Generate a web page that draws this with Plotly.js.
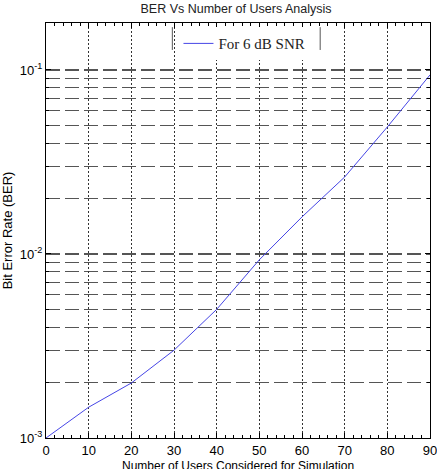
<!DOCTYPE html>
<html><head><meta charset="utf-8">
<script src="https://cdn.plot.ly/plotly-3.0.1.min.js"></script>
<style>body{margin:0;background:#fff}#plot{width:437px;height:469px}</style>
</head><body><div id="plot"></div>
<script>
const users = [0, 10, 20, 30, 40, 50, 60, 70, 80, 90];
const ber = [0.0010, 0.00147, 0.00199, 0.0030, 0.0050, 0.0093, 0.0159, 0.0262, 0.049, 0.094];
const seriesName = "For 6 dB SNR";
const yTickVals = [0.001, 0.01, 0.1];
const yTickText = ["10<sup>-3</sup>", "10<sup>-2</sup>", "10<sup>-1</sup>"];
const xTickVals = [0, 10, 20, 30, 40, 50, 60, 70, 80, 90];
const xTitle = "Number of Users Considered for Simulation";

const minorY = [];
[0.001, 0.01, 0.1].forEach(d => { for (let k = 2; k <= 9; k++) minorY.push(d * k); });

const trace = {x: users, y: ber, type: "scatter", mode: "lines", name: seriesName,
  line: {color: "rgb(70,70,230)", width: 1}};

const layout = {
  width: 437, height: 469,
  margin: {l: 46, r: 7, t: 23, b: 31},
  paper_bgcolor: "#fff", plot_bgcolor: "#fff",
  font: {family: "Liberation Sans, Arial, sans-serif", color: "#000", size: 13},
  title: {text: "BER Vs Number of Users Analysis", x: 0.54, xanchor: "center", y: 0.99, yanchor: "top",
    font: {size: 12.5, color: "#222"}},
  showlegend: true,
  legend: {x: 0.345, y: 0.99, xanchor: "left", yanchor: "top", bgcolor: "rgba(255,255,255,1)",
    borderwidth: 0, font: {family: "Liberation Serif, Times New Roman, serif", size: 15, color: "#222"}},
  xaxis: {range: [-0.0001, 90.0001], tickvals: xTickVals, ticks: "inside", ticklen: 5, tickcolor: "#000",
    ticklabeloverflow: "allow",
    showline: true, linecolor: "#000", linewidth: 1, mirror: "ticks",
    showgrid: true, gridcolor: "#333", griddash: "2px,2px", gridwidth: 1, zeroline: false,
    minor: {dtick: 2, ticks: "inside", ticklen: 3, tickcolor: "#000", showgrid: false},
    tickfont: {size: 13}},
  yaxis: {type: "log", range: [-3, Math.log10(0.18)], tickvals: yTickVals, ticktext: yTickText,
    ticks: "inside", ticklen: 5, tickcolor: "#000",
    showline: true, linecolor: "#000", linewidth: 1, mirror: "ticks",
    showgrid: true, gridcolor: "#555", griddash: "14px,5px", gridwidth: 1.2, zeroline: false,
    minor: {tickvals: minorY, ticks: "inside", ticklen: 3, tickcolor: "#000", showgrid: true,
      gridcolor: "#555", griddash: "14px,5px", gridwidth: 1.2},
    tickfont: {size: 13},
    title: {text: "Bit Error Rate (BER)", font: {size: 13}, standoff: 8}},
  annotations: [
    {text: xTitle, xref: "paper", yref: "paper", x: 0.5, y: -0.068, xanchor: "center", yanchor: "middle",
      showarrow: false, font: {size: 12, color: "#000"}}
  ],
  shapes: [
    {type: "line", xref: "paper", yref: "paper", x0: 0.329, x1: 0.329, y0: 0.935, y1: 0.99, line: {color: "#555", width: 1}},
    {type: "line", xref: "paper", yref: "paper", x0: 0.714, x1: 0.714, y0: 0.935, y1: 0.99, line: {color: "#555", width: 1}}
  ]
};
Plotly.newPlot("plot", [trace], layout, {displayModeBar: false, staticPlot: true});
</script></body></html>
